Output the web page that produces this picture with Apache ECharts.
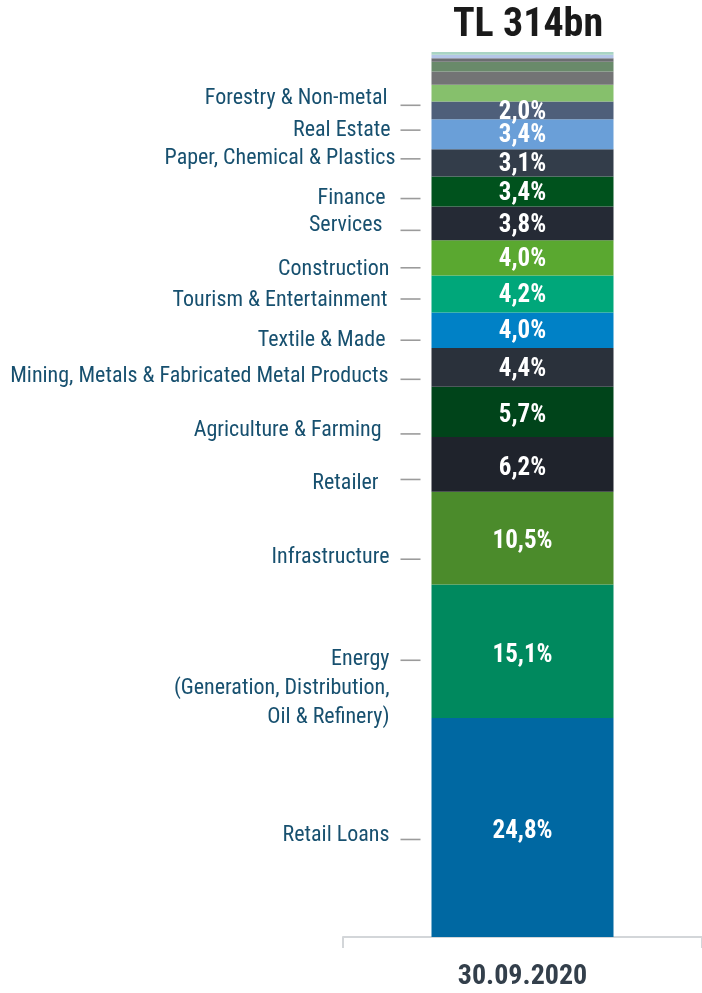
<!DOCTYPE html>
<html>
<head>
<meta charset="utf-8">
<title>Loan breakdown by sector</title>
<script src="https://cdn.jsdelivr.net/npm/echarts@6/dist/echarts.min.js"></script>
<style>
	html, body { margin: 0; padding: 0; background: #ffffff; }
	#main { width: 702px; height: 993px; }
</style>
</head>
<body>
<div id="main"></div>
<script>
// 30.09.2020 kredi dagilimi, alttan uste
var period = ['30.09.2020'];
var totalText = 'TL 314bn';
var sectors = [
	'Retail Loans',
	'Energy\n(Generation, Distribution,\nOil & Refinery)',
	'Infrastructure',
	'Retailer',
	'Agriculture & Farming',
	'Mining, Metals & Fabricated Metal Products',
	'Textile & Made',
	'Tourism & Entertainment',
	'Construction',
	'Services',
	'Finance',
	'Paper, Chemical & Plastics',
	'Real Estate',
	'Forestry & Non-metal',
	'Other 1', 'Other 2', 'Other 3', 'Other 4', 'Other 5', 'Other 6'
];
var shares = [24.8, 15.1, 10.5, 6.2, 5.7, 4.4, 4.0, 4.2, 4.0, 3.8, 3.4, 3.1, 3.4, 2.0, 1.9, 1.5, 1.1, 0.4, 0.4, 0.3];
var labelled = 14; // ilk 14 dilimin etiketi var

var colors = ['#0068a2', '#00895e', '#4b8b2b', '#1f232c', '#00441a', '#2a313b', '#0081c6', '#00a77a',
	'#5aa830', '#252a35', '#00521d', '#333d4a', '#6a9fd8', '#4e5f7a',
	'#86c06c', '#737475', '#698a6a', '#6b6d70', '#b4c6e7', '#a9d4c4'];
// [cizgi dy, yazi dx, yazi dy] piksel kaydirmalari
var nudges = [[12, 0, -4], [9, 0, 28], [21, 0, -2], [15, -11, 4], [22, -8, -3], [12, -1, -3], [10, -4, 0],
	[5, -2, 1], [10, 0, 2], [7, -7, -5], [7, -4, 0], [-4, 6, 0], [-4, 1, 0], [-5, -2, -7]];

var font = "'Roboto Condensed', 'Liberation Sans', sans-serif";
var myChart = echarts.init(document.getElementById('main'));

var total = 0;
for (var i = 0; i < shares.length; i++) total += shares[i];

var series = [];
var cum = 0;
for (var i = 0; i < shares.length; i++) {
	var mid = cum + shares[i] / 2;
	cum += shares[i];
	var s = {
		name: sectors[i],
		type: 'bar',
		stack: 'all',
		barWidth: 182,
		itemStyle: { color: colors[i] },
		data: [shares[i]],
		label: {
			show: i < labelled,
			position: 'inside',
			offset: [0, i < 5 ? 4 : 2],
			color: '#ffffff',
			fontFamily: font,
			fontWeight: 'bold',
			fontSize: 25,
			formatter: function (p) {
				return p.value.toFixed(1).replace('.', ',') + '%';
			}
		}
	};
	if (i < labelled) {
		s.markPoint = {
			symbol: 'rect',
			symbolSize: [20, 1.6],
			symbolOffset: [-112, nudges[i][0]],
			itemStyle: { color: '#9b9b9b' },
			label: {
				show: true,
				position: 'left',
				distance: 11,
				offset: [nudges[i][1], nudges[i][2]],
				align: 'right',
				color: '#17506f',
				fontFamily: font,
				fontSize: 22,
				lineHeight: 29,
				formatter: sectors[i]
			},
			data: [{ coord: [period[0], mid], value: shares[i] }]
		};
	}
	series.push(s);
}

var option = {
	animation: false,
	title: {
		text: totalText,
		left: 523,
		top: 1,
		textAlign: 'center',
		textStyle: {
			fontFamily: font,
			fontWeight: 'bold',
			fontSize: 40,
			color: '#1a1a1a'
		}
	},
	grid: {
		left: 343,
		right: 0,
		top: 52,
		bottom: 56
	},
	xAxis: {
		type: 'category',
		data: period,
		axisLine: { lineStyle: { color: '#d3d6d9', width: 2 } },
		axisTick: { show: true, length: 11, lineStyle: { color: '#d3d6d9', width: 2 } },
		axisLabel: {
			margin: 26,
			color: '#333f4b',
			fontFamily: font,
			fontWeight: 'bold',
			fontSize: 28
		}
	},
	yAxis: {
		type: 'value',
		min: 0,
		max: total,
		show: false,
		splitLine: { show: false }
	},
	series: series
};
myChart.setOption(option);
</script>
</body>
</html>
